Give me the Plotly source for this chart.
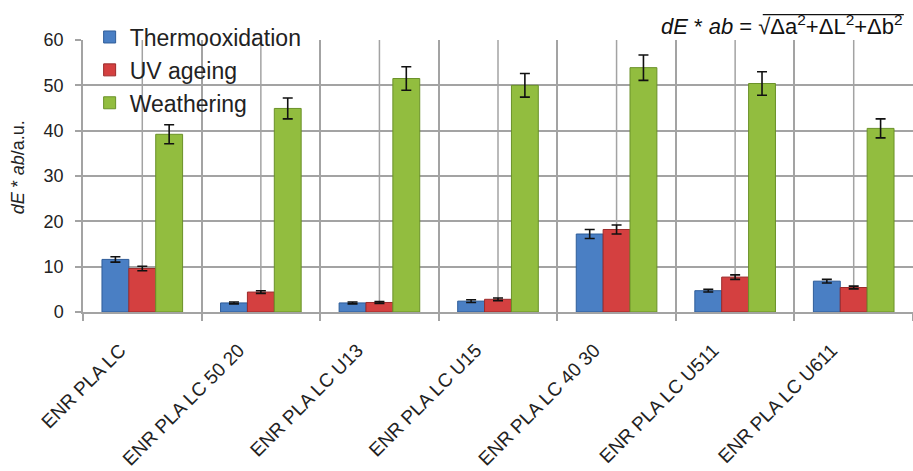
import plotly.graph_objects as go

# Colour difference dE*ab after each ageing treatment
samples = ["ENR PLA LC", "ENR PLA LC 50 20", "ENR PLA LC U13", "ENR PLA LC U15",
           "ENR PLA LC 40 30", "ENR PLA LC U511", "ENR PLA LC U611"]

thermo = [11.6, 2.0, 2.0, 2.4, 17.2, 4.7, 6.8]
thermo_err = [0.6, 0.2, 0.2, 0.3, 1.0, 0.3, 0.4]

uv = [9.6, 4.4, 2.1, 2.8, 18.2, 7.7, 5.4]
uv_err = [0.5, 0.3, 0.2, 0.3, 1.0, 0.5, 0.3]

weather = [39.2, 44.9, 51.5, 50.0, 53.9, 50.4, 40.5]
weather_err = [2.1, 2.3, 2.6, 2.6, 2.8, 2.6, 2.1]

y_ticks = [0, 10, 20, 30, 40, 50, 60]

series = [
    ("Thermooxidation", thermo, thermo_err, "#4a7fc4", "#2f5d99"),
    ("UV ageing", uv, uv_err, "#d44040", "#9c2a2a"),
    ("Weathering", weather, weather_err, "#92bd3f", "#6a9128"),
]

FONT = "Arial, Liberation Sans, sans-serif"
GRID = "#a3a3a3"

fig = go.Figure()
for name, vals, errs, fill, edge in series:
    fig.add_trace(go.Bar(
        x=samples, y=vals, name=name,
        marker=dict(color=fill, line=dict(color=edge, width=1)),
        error_y=dict(type="data", array=errs, visible=True,
                     color="#111111", thickness=1.6, width=5),
        legendgroup=name,
    ))

# vertical gridlines through the centre of each category
for s in samples:
    fig.add_shape(type="line", xref="x", yref="y", x0=s, x1=s,
                  y0=y_ticks[0], y1=y_ticks[-1],
                  line=dict(color=GRID, width=1.5), layer="below")

# colour-difference formula in the top right corner, with the root's vinculum
fig.add_annotation(
    xref="paper", yref="paper", x=0.989, y=1.0,
    xanchor="right", yanchor="bottom", showarrow=False, borderpad=0,
    text="<i>dE</i> * <i>ab</i> = \u221a"
         "\u0394a<sup>2</sup>+\u0394L<sup>2</sup>+\u0394b<sup>2</sup>",
    font=dict(size=22, color="#111111", family=FONT),
)
fig.add_shape(type="line", xref="paper", yref="paper",
              x0=0.819, x1=0.989, y0=1.093, y1=1.093,
              line=dict(color="#111111", width=1.2))

# y-axis title
fig.add_annotation(
    xref="paper", yref="paper", x=-0.078, y=0.533,
    xanchor="center", yanchor="middle", showarrow=False, textangle=-90,
    text="<i>dE</i> * <i>ab</i>/a.u.",
    font=dict(size=18, color="#222222", family=FONT),
)

fig.update_layout(
    width=913, height=471,
    margin=dict(l=83, r=0, t=40, b=159),
    paper_bgcolor="white", plot_bgcolor="white",
    barmode="group", bargap=0.32, bargroupgap=0,
    font=dict(family=FONT, color="#222222"),
    showlegend=True,
    legend=dict(x=0.008, y=1.09, xanchor="left", yanchor="top",
                bgcolor="rgba(0,0,0,0)", font=dict(size=23, color="#222222"),
                tracegroupgap=0, itemwidth=30),
)

fig.update_xaxes(
    type="category", tickson="boundaries", ticks="outside", ticklen=7,
    tickcolor=GRID, tickwidth=1.5, showgrid=True, gridcolor=GRID, gridwidth=1.5,
    showline=True, linecolor=GRID, linewidth=1.5,
    tickangle=-45, tickfont=dict(size=19, color="#222222"),
    ticklabelstandoff=18, ticklabelshift=-22,
)
fig.update_yaxes(
    range=[y_ticks[0], y_ticks[-1]], tickvals=y_ticks, ticks="outside", ticklen=6,
    tickcolor=GRID, tickwidth=1.5, showgrid=True, gridcolor=GRID, gridwidth=1.5,
    showline=True, linecolor=GRID, linewidth=1.5, zeroline=False,
    tickfont=dict(size=18, color="#222222"), ticklabelstandoff=8,
)

fig.write_html("out.html")
